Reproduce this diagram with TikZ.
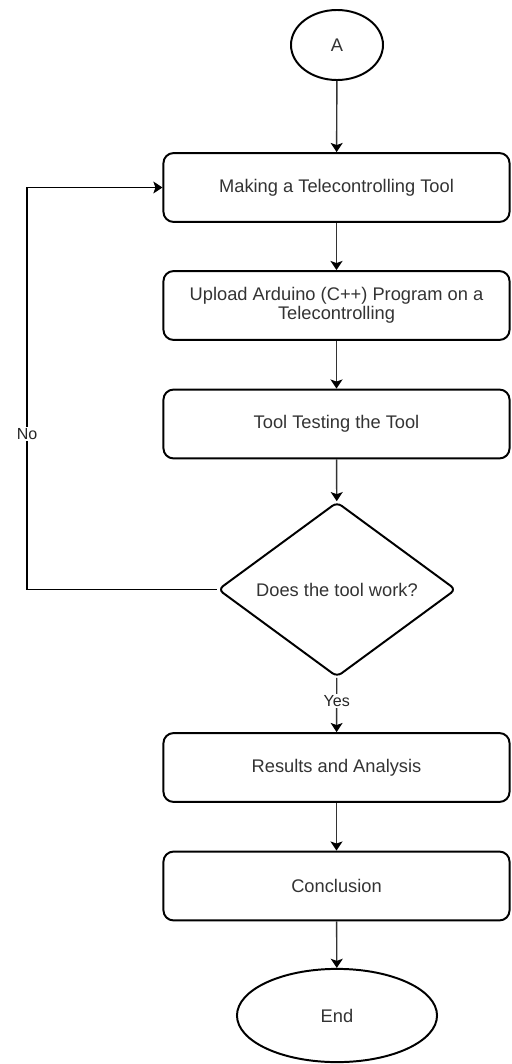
\documentclass[tikz,border=0pt]{standalone}
\usepackage{fontspec}
\setmainfont{Liberation Sans}
\usetikzlibrary{shapes.geometric,arrows.meta,positioning}

\begin{document}
\begin{tikzpicture}[x=0.025cm,y=-0.025cm,
        every node/.style={font=\fontsize{13}{13.5}\selectfont,text=black!80},
        term/.style={ellipse,draw=black,line width=1.4pt,inner sep=0pt},
        process/.style={rectangle,rounded corners=0.25cm,draw=black,line width=1.4pt,
            minimum width=8.65cm,minimum height=1.72cm,align=center},
        decision/.style={diamond,draw=black,line width=1.4pt,rounded corners=4pt,
            minimum width=5.95cm,minimum height=3.62cm,inner sep=0pt},
        flow/.style={draw=black!80,line width=1pt,
            -{Stealth[length=6.5pt,width=8.5pt,inset=1.5pt,color=black]}},
        tag/.style={fill=white,inner sep=1pt,text=black!85,font=\fontsize{11.4}{12}\selectfont}]
        \useasboundingbox (0,0) rectangle (512,1064);
        \node [term,minimum width=2.3cm,minimum height=1.75cm] (start) at (337,45) {A};
        \node [process] (make) at (336.5,187.5) {Making a Telecontrolling Tool};
        \node [process] (upload) at (336.5,305.5) {Upload Arduino (C++) Program on a\\Telecontrolling};
        \node [process] (testing) at (336.5,424) {Tool Testing the Tool};
        \node [decision] (works) at (337,589.5) {Does the tool work?};
        \node [process] (results) at (336.5,767.5) {Results and Analysis};
        \node [process] (concl) at (336.5,886) {Conclusion};
        \node [term,minimum width=5cm,minimum height=2.33cm] (finish) at (337,1015.5) {End};
        \coordinate (back) at (27,589.5);
        \draw [flow] (start) -- (make);
        \draw [flow] (make) -- (upload);
        \draw [flow] (upload) -- (testing);
        \draw [flow] (testing) -- (works);
        \draw [flow] (works) -- node [tag,pos=0.43] {Yes} (results);
        \draw [flow] (results) -- (concl);
        \draw [flow] (concl) -- (finish);
        \draw [flow,draw=black,line width=0.8pt] (works.west) -- (back)
            -- node [tag,pos=0.386] {No} (back |- make.west) -- (make.west);
\end{tikzpicture}
\end{document}
